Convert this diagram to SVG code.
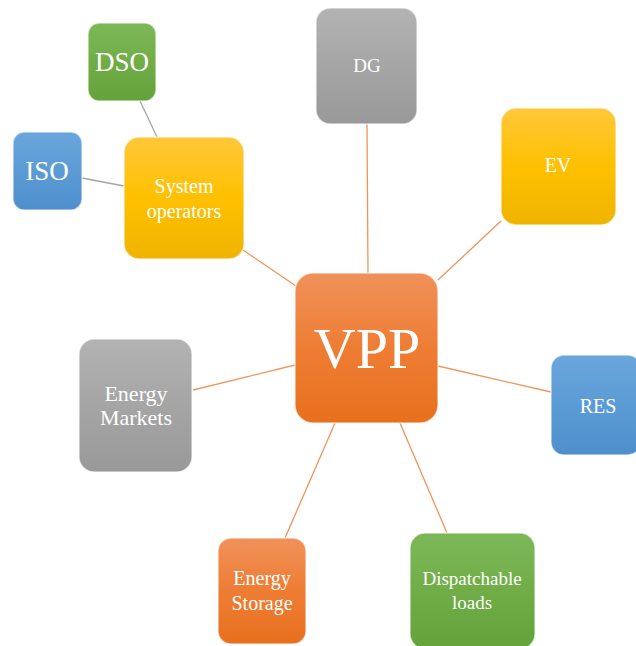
<svg xmlns="http://www.w3.org/2000/svg" width="636" height="646" viewBox="0 0 636 646">
<defs>
<linearGradient id="gOr" x1="0" y1="0" x2="0" y2="1"><stop offset="0" stop-color="#F0915A"/><stop offset="0.5" stop-color="#EE7D34"/><stop offset="1" stop-color="#E8701E"/></linearGradient>
<linearGradient id="gGr" x1="0" y1="0" x2="0" y2="1"><stop offset="0" stop-color="#B3B3B3"/><stop offset="0.5" stop-color="#A5A5A5"/><stop offset="1" stop-color="#999999"/></linearGradient>
<linearGradient id="gYe" x1="0" y1="0" x2="0" y2="1"><stop offset="0" stop-color="#FFC83A"/><stop offset="0.5" stop-color="#FFC000"/><stop offset="1" stop-color="#F0B400"/></linearGradient>
<linearGradient id="gBl" x1="0" y1="0" x2="0" y2="1"><stop offset="0" stop-color="#6AA6DC"/><stop offset="0.5" stop-color="#5B9BD5"/><stop offset="1" stop-color="#4E8ECB"/></linearGradient>
<linearGradient id="gGn" x1="0" y1="0" x2="0" y2="1"><stop offset="0" stop-color="#7DB858"/><stop offset="0.5" stop-color="#70AD47"/><stop offset="1" stop-color="#64A23A"/></linearGradient>
</defs>
<style>
.box{stroke:#ffffff;stroke-opacity:0.6;stroke-width:1.5}
.t{font-family:"Liberation Serif","Times New Roman",serif;fill:#ffffff;text-anchor:middle}
.co{stroke:#F0955A;stroke-width:1.3;fill:none}
.cg{stroke:#A5A5A5;stroke-width:1.3;fill:none}
</style>
<g id="connectors">
<line class="cg" x1="140" y1="101" x2="157" y2="137"/>
<line class="cg" x1="82" y1="178" x2="124" y2="186"/>
<line class="co" x1="243" y1="250" x2="296" y2="286"/>
<line class="co" x1="367" y1="124" x2="368" y2="273"/>
<line class="co" x1="501" y1="221" x2="438" y2="280"/>
<line class="co" x1="551" y1="392" x2="438" y2="366"/>
<line class="co" x1="193" y1="390" x2="295" y2="365"/>
<line class="co" x1="285" y1="538" x2="335" y2="423"/>
<line class="co" x1="447" y1="533" x2="400" y2="423"/>
</g>
<g id="node-dso"><rect class="box" x="88" y="23" width="68" height="78" rx="11" fill="url(#gGn)"/><text class="t" x="122" y="71" font-size="27">DSO</text></g>
<g id="node-iso"><rect class="box" x="13" y="132" width="69" height="78" rx="11" fill="url(#gBl)"/><text class="t" x="47" y="180" font-size="27">ISO</text></g>
<g id="node-sysop"><rect class="box" x="124" y="137" width="120" height="122" rx="15" fill="url(#gYe)"/><text class="t" x="184" y="193" font-size="20">System</text><text class="t" x="184" y="218" font-size="20">operators</text></g>
<g id="node-dg"><rect class="box" x="316" y="8" width="101" height="116" rx="14" fill="url(#gGr)"/><text class="t" x="367" y="72" font-size="19">DG</text></g>
<g id="node-ev"><rect class="box" x="501" y="108" width="115" height="117" rx="15" fill="url(#gYe)"/><text class="t" x="558" y="172" font-size="20">EV</text></g>
<g id="node-vpp"><rect class="box" x="295" y="273" width="143" height="150" rx="18" fill="url(#gOr)"/><text class="t" x="367" y="368" font-size="58">VPP</text></g>
<g id="node-res"><rect class="box" x="551" y="355" width="90" height="100" rx="13" fill="url(#gBl)"/><text class="t" x="598" y="413" font-size="20">RES</text></g>
<g id="node-markets"><rect class="box" x="79" y="339" width="113" height="133" rx="15" fill="url(#gGr)"/><text class="t" x="136" y="401" font-size="22">Energy</text><text class="t" x="136" y="425" font-size="22">Markets</text></g>
<g id="node-storage"><rect class="box" x="218" y="538" width="88" height="106" rx="13" fill="url(#gOr)"/><text class="t" x="262" y="585" font-size="20">Energy</text><text class="t" x="262" y="610" font-size="20">Storage</text></g>
<g id="node-loads"><rect class="box" x="410" y="533" width="125" height="116" rx="15" fill="url(#gGn)"/><text class="t" x="472" y="585" font-size="19">Dispatchable</text><text class="t" x="472" y="609" font-size="19">loads</text></g>
</svg>
